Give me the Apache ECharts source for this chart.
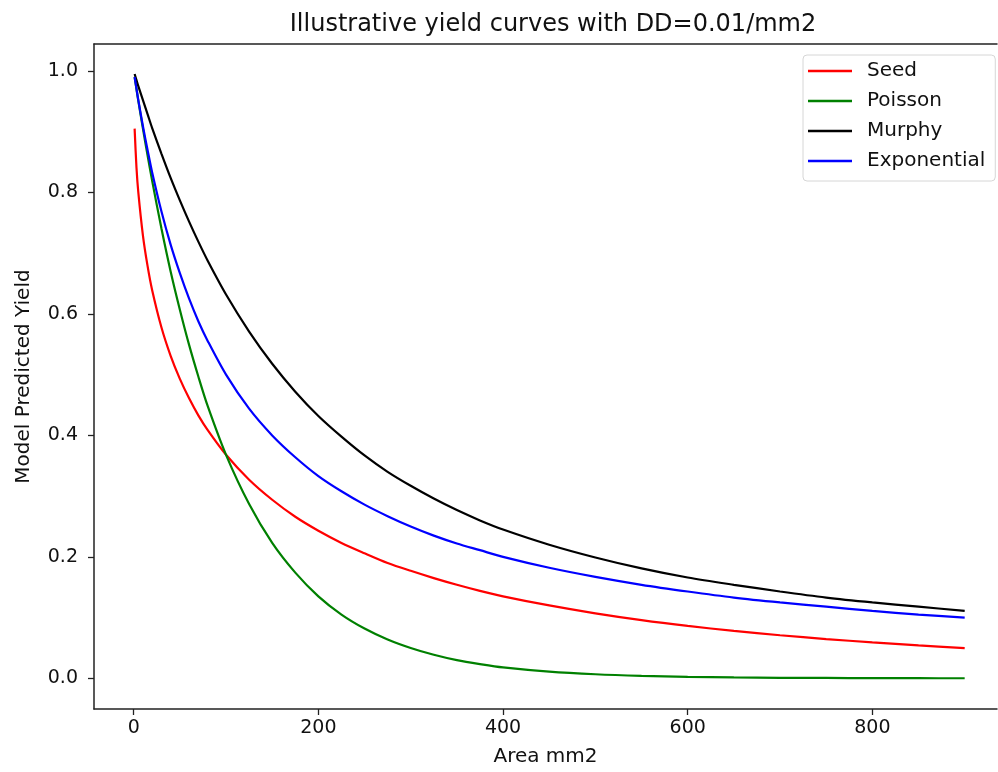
<!DOCTYPE html>
<html>
<head>
<meta charset="utf-8">
<script src="https://cdn.jsdelivr.net/npm/echarts@6/dist/echarts.min.js"></script>
<style>html,body{margin:0;padding:0;background:#fff;}#c{width:998px;height:772px;}</style>
</head>
<body>
<div id="c"></div>
<script>
const areas = [1,3,5,10,15,20,30,40,50,60,70,80,100,125,150,175,200,225,250,275,300,325,350,375,400,450,500,550,600,650,700,750,800,850,900];
const seed = [0.905,0.841,0.800,0.729,0.679,0.639,0.578,0.531,0.493,0.461,0.433,0.409,0.368,0.327,0.294,0.266,0.243,0.223,0.206,0.190,0.177,0.165,0.154,0.144,0.135,0.120,0.107,0.0958,0.0863,0.0781,0.0709,0.0647,0.0591,0.0542,0.0498];
const poisson = [0.990,0.970,0.951,0.905,0.861,0.819,0.741,0.670,0.607,0.549,0.497,0.449,0.368,0.287,0.223,0.174,0.135,0.105,0.082,0.064,0.050,0.0388,0.030,0.0235,0.018,0.011,0.0067,0.0041,0.0025,0.0015,0.0009,0.0006,0.0003,0.0002,0.0001];
const murphy = [0.995,0.985,0.975,0.952,0.929,0.906,0.864,0.824,0.787,0.752,0.719,0.688,0.632,0.571,0.518,0.472,0.432,0.398,0.367,0.340,0.317,0.296,0.277,0.260,0.245,0.220,0.199,0.181,0.166,0.154,0.143,0.133,0.125,0.118,0.111];
const exponential = [0.990,0.971,0.952,0.909,0.870,0.833,0.769,0.714,0.667,0.625,0.588,0.556,0.500,0.444,0.400,0.364,0.333,0.308,0.286,0.267,0.250,0.235,0.222,0.211,0.200,0.182,0.167,0.154,0.143,0.133,0.125,0.118,0.111,0.105,0.100];
const xTicks = [0,200,400,600,800];
const yTicks = [0.0,0.2,0.4,0.6,0.8,1.0];

const F = 'DejaVu Sans';
function pairs(ys){ return areas.map((a,i)=>[a, ys[i]]); }
const chart = echarts.init(document.getElementById('c'), null, {renderer:'canvas'});
const mk = (name, data, color) => ({
  name, type:'line', data: pairs(data), symbol:'none', smooth:0.3,
  lineStyle:{color, width:2.2}, itemStyle:{color}, animation:false
});
const spine = {show:true, onZero:false, lineStyle:{color:'#222', width:1.5}};
chart.setOption({
  animation:false,
  backgroundColor:'#fff',
  title:{text:'Illustrative yield curves with DD=0.01/mm2', left:548, top:8, textAlign:'center',
    textStyle:{fontFamily:F, fontSize:24, fontWeight:'normal', color:'#111'}},
  grid:{left:94, right:1, top:44, bottom:62, show:false},
  legend:{orient:'vertical', left:803, top:55,
    padding:[6,10,10,5], itemGap:10, itemWidth:44, itemHeight:2.5, icon:'rect',
    borderColor:'#d6d6d6', borderWidth:1, borderRadius:4, backgroundColor:'#fff',
    textStyle:{fontFamily:F, fontSize:20, color:'#111', padding:[0,0,0,10]},
    data:['Seed','Poisson','Murphy','Exponential']},
  xAxis:[{type:'value', min:-43, max:935, position:'bottom',
    name:'Area mm2', nameLocation:'middle', nameGap:38,
    nameTextStyle:{fontFamily:F, fontSize:20, color:'#111'},
    axisLine:spine,
    axisTick:{show:true, inside:false, length:6, lineStyle:{color:'#222', width:1.3}, customValues:xTicks},
    axisLabel:{fontFamily:F, fontSize:19, color:'#111', margin:10, customValues:xTicks, formatter:v=>String(Math.round(v))},
    splitLine:{show:false}},
   {type:'value', min:-43, max:935, position:'top',
    axisLine:spine, axisTick:{show:false}, axisLabel:{show:false}, splitLine:{show:false}}],
  yAxis:{type:'value', min:-0.0505, max:1.0444,
    name:'Model Predicted Yield', nameLocation:'middle', nameGap:60, nameRotate:90,
    nameTextStyle:{fontFamily:F, fontSize:20, color:'#111'},
    axisLine:spine,
    axisTick:{show:true, inside:false, length:6, lineStyle:{color:'#222', width:1.3}, customValues:yTicks},
    axisLabel:{fontFamily:F, fontSize:19, color:'#111', margin:16, customValues:yTicks, formatter:v=>v.toFixed(1)},
    splitLine:{show:false}},
  series:[
    mk('Seed', seed, '#ff0000'),
    mk('Poisson', poisson, '#008000'),
    mk('Murphy', murphy, '#000000'),
    mk('Exponential', exponential, '#0000ff')
  ]
});
</script>
</body>
</html>
